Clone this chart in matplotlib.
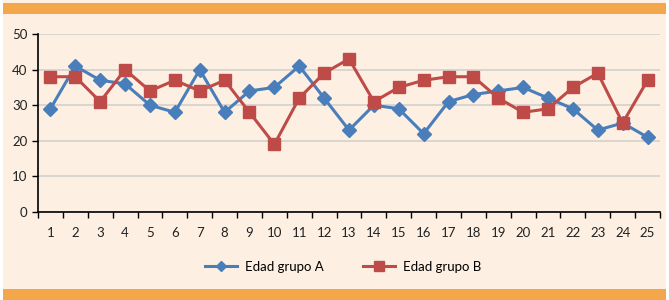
import numpy as np
import matplotlib.pyplot as plt
from matplotlib.patches import Rectangle

# Chart data
categorias = list(range(1, 26))
edad_a = [29, 41, 37, 36, 30, 28, 40, 28, 34, 35, 41, 32, 23, 30, 29, 22, 31, 33, 34, 35, 32, 29, 23, 25, 21]
edad_b = [38, 38, 31, 40, 34, 37, 34, 37, 28, 19, 32, 39, 43, 31, 35, 37, 38, 38, 32, 28, 29, 35, 39, 25, 37]
y_ticks = [0, 10, 20, 30, 40, 50]

plt.rcParams['font.family'] = ['Lato', 'DejaVu Sans']

fig = plt.figure(figsize=(6.69, 3.0), dpi=100)
fig.patch.set_facecolor('white')

# cream panel and orange bands
fig.patches.append(Rectangle((3 / 669, 0), 663 / 669, 1, transform=fig.transFigure,
                             facecolor='#FDF0E3', edgecolor='none', zorder=-10))
fig.patches.append(Rectangle((3 / 669, 1 - 14 / 300), 663 / 669, 11 / 300, transform=fig.transFigure,
                             facecolor='#F4A64A', edgecolor='none', zorder=-9))
fig.patches.append(Rectangle((3 / 669, 0), 663 / 669, 11 / 300, transform=fig.transFigure,
                             facecolor='#F4A64A', edgecolor='none', zorder=-9))

ax = fig.add_axes([38 / 669, 1 - 212 / 300, 622 / 669, 178 / 300])
ax.set_facecolor('none')

x = np.array(categorias)
ax.plot(x, edad_a, color='#4A7EBB', lw=2.2, marker='D', markersize=7,
        markeredgecolor='#4A7EBB', label='Edad grupo A', zorder=3)
ax.plot(x, edad_b, color='#BE4B48', lw=2.2, marker='s', markersize=9,
        markeredgecolor='#BE4B48', label='Edad grupo B', zorder=3)

ax.set_xlim(0.5, 25.5)
ax.set_ylim(0, 50)
ax.set_yticks(y_ticks)
ax.yaxis.grid(True, color='#D4D0CC', lw=1.2)
ax.set_axisbelow(True)

# ticks between categories, labels at centres
ax.set_xticks(np.arange(0.5, 26, 1))
ax.set_xticklabels([])
ax.set_xticks(x, minor=True)
ax.set_xticklabels([str(c) for c in categorias], minor=True)
ax.tick_params(axis='x', which='major', length=4, width=1, direction='out', color='black')
ax.tick_params(axis='x', which='minor', length=0, pad=11, labelsize=9.5, labelcolor='#222222')
ax.tick_params(axis='y', length=4, width=1, labelsize=9.5, labelcolor='#222222')

for s in ['top', 'right']:
    ax.spines[s].set_visible(False)
for s in ['left', 'bottom']:
    ax.spines[s].set_color('black')
    ax.spines[s].set_linewidth(1.2)

leg = fig.legend(loc='center', bbox_to_anchor=(343 / 669, 1 - 267 / 300), ncol=2, frameon=False,
                 fontsize=9.5, columnspacing=3.0, handlelength=2.4, handletextpad=0.6,
                 markerscale=0.8)

fig.savefig('out.png', dpi=100)
